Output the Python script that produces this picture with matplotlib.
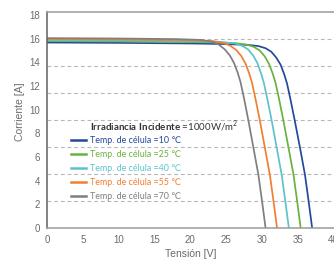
import matplotlib
matplotlib.use("Agg")
import matplotlib.pyplot as plt
import numpy as np
from matplotlib.ticker import FixedLocator
from matplotlib.lines import Line2D

# I-V curves (voltage V, current A)
v_10 = [0, 10, 20, 25, 28, 29.5, 30.5, 31.3, 32.0, 32.6, 33.1, 33.5, 34.0, 34.6, 35.3, 36.0, 36.5, 37.0]
i_10 = [15.68, 15.65, 15.6, 15.55, 15.48, 15.38, 15.2, 14.9, 14.4, 13.8, 13.0, 12.2, 10.8, 9.0, 6.8, 4.5, 2.3, 0]

v_25 = [0, 10, 20, 25, 26.4, 27.9, 28.9, 29.7, 30.4, 31.0, 31.5, 31.9, 32.4, 33.0, 33.7, 34.4, 34.9, 35.4]
i_25 = [15.8, 15.77, 15.72, 15.66, 15.62, 15.5, 15.3, 15.0, 14.5, 13.85, 13.05, 12.25, 10.85, 9.05, 6.8, 4.5, 2.3, 0]

v_40 = [0, 10, 20, 24, 26.25, 27.25, 28.05, 28.75, 29.35, 29.85, 30.25, 30.75, 31.35, 32.05, 32.75, 33.25, 33.75]
i_40 = [15.88, 15.85, 15.8, 15.74, 15.6, 15.4, 15.1, 14.6, 13.95, 13.1, 12.3, 10.9, 9.1, 6.8, 4.5, 2.3, 0]

v_55 = [0, 10, 20, 23.1, 24.6, 25.6, 26.4, 27.1, 27.7, 28.2, 28.6, 29.1, 29.7, 30.4, 31.1, 31.6, 32.1]
i_55 = [15.97, 15.94, 15.87, 15.8, 15.65, 15.4, 15.05, 14.55, 13.9, 13.1, 12.3, 10.9, 9.1, 6.8, 4.5, 2.3, 0]

v_70 = [0, 10, 18, 21.5, 23.0, 24.0, 24.8, 25.5, 26.1, 26.6, 27.0, 27.5, 28.1, 28.8, 29.5, 30.0, 30.5]
i_70 = [16.05, 16.02, 15.97, 15.9, 15.75, 15.5, 15.1, 14.6, 13.95, 13.15, 12.35, 10.95, 9.1, 6.8, 4.5, 2.3, 0]

temps = ["10", "25", "40", "55", "70"]
series_v = [v_10, v_25, v_40, v_55, v_70]
series_i = [i_10, i_25, i_40, i_55, i_70]
colors = ["#23499a", "#6ab23e", "#5cc3cd", "#f17e32", "#7f7f80"]

x_ticks = [0, 5, 10, 15, 20, 25, 30, 35, 40]
y_ticks = [0, 2, 4, 6, 8, 10, 12, 14, 16, 18]
y_top = 18.26

fam = ["Lato", "DejaVu Sans"]
plt.rcParams["font.family"] = ["Liberation Sans", "DejaVu Sans"]
plt.rcParams["mathtext.fontset"] = "custom"
plt.rcParams["mathtext.rm"] = "Lato"
plt.rcParams["mathtext.bf"] = "Lato:bold"

fig = plt.figure(figsize=(3.34, 2.6), dpi=100)
ax = fig.add_axes([47 / 334, 32 / 260, 1 - 47 / 334, 216 / 260])

for v, i, c in zip(series_v, series_i, colors):
    ax.plot(v, i, color=c, lw=1.25, solid_joinstyle="round")

ax.set_xlim(0, 40.05)
ax.set_ylim(0, y_top)
ax.set_xticks(x_ticks)
ax.set_yticks(y_ticks)
# grid lines split the axis height in 8 equal parts
ax.yaxis.set_minor_locator(FixedLocator(np.linspace(0, y_top, 9)[1:-1]))
ax.grid(which="minor", axis="y", color="#b8b8b8", ls=(0, (3.5, 2.5)), lw=0.8)
ax.tick_params(which="both", length=0)
ax.tick_params(axis="both", labelsize=7, labelcolor="#6b6b6b")
ax.tick_params(axis="x", pad=5)
ax.tick_params(axis="y", pad=5)

ax.spines["right"].set_visible(False)
ax.spines["left"].set_color("#606060")
ax.spines["bottom"].set_color("#9a9a9a")
ax.spines["top"].set_color("#9a9a9a")
for s in ["left", "bottom", "top"]:
    ax.spines[s].set_linewidth(1.1)

ax.set_xlabel("Tensión [V]", fontsize=7.5, color="#6b6b6b", labelpad=3)
ax.set_ylabel("Corriente [A]", fontsize=7.5, color="#6b6b6b")
ax.yaxis.set_label_coords(-0.077, 0.54)

# legend block
ax.text(0.15, 0.45, r"$\mathbf{Irradiancia\ Incidente}$ =1000W/m$^{2}$",
        transform=ax.transAxes, fontsize=7, color="#333333", family=fam, va="baseline")
handles = [Line2D([], [], color=c, lw=1.8) for c in colors]
labels = ["Temp. de célula =%s ℃" % t for t in temps]
leg = ax.legend(handles, labels, loc="upper left", bbox_to_anchor=(0.083, 0.425),
                frameon=False, handlelength=1.75, handletextpad=0.4,
                labelspacing=0.55, borderaxespad=0, borderpad=0,
                prop={"family": fam, "size": 6.4})
for txt, c in zip(leg.get_texts(), colors):
    txt.set_color(c)

fig.savefig("out.png", dpi=100)
